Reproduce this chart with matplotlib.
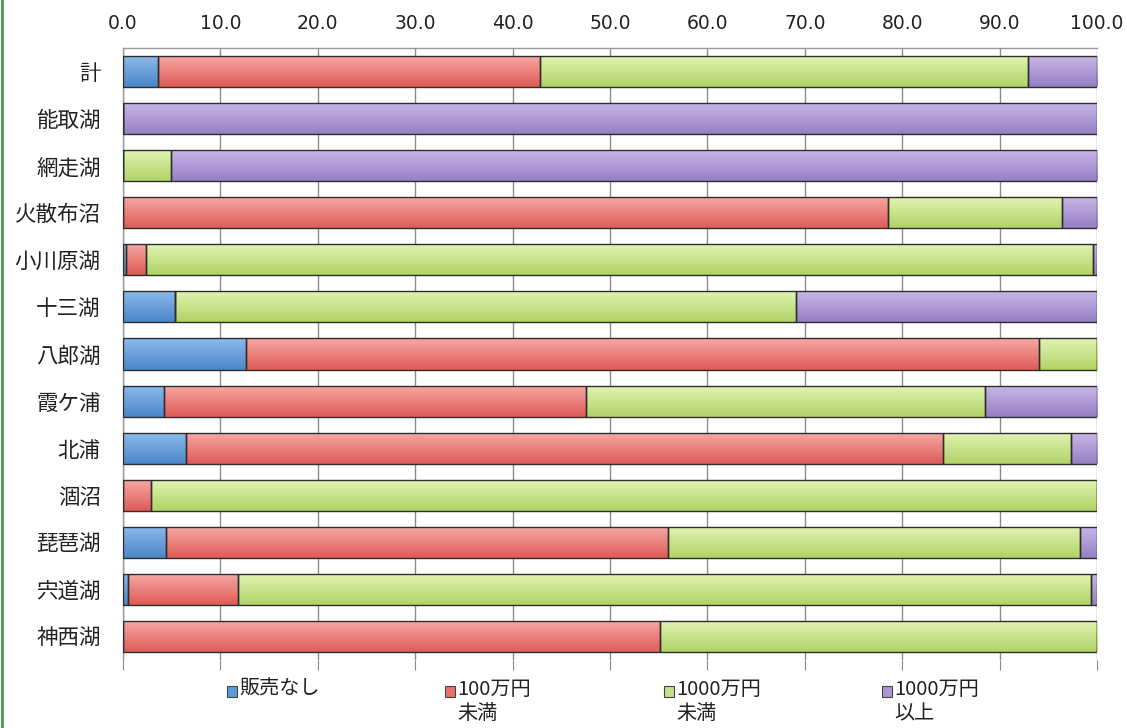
import numpy as np
import matplotlib.pyplot as plt
from matplotlib.colors import LinearSegmentedColormap
from matplotlib.lines import Line2D

plt.rcParams['font.family'] = ['Noto Sans CJK JP', 'DejaVu Sans']

lakes = ['計', '能取湖', '網走湖', '火散布沼', '小川原湖', '十三湖', '八郎湖',
         '霞ケ浦', '北浦', '涸沼', '琵琶湖', '宍道湖', '神西湖']
no_sales = [3.6, 0.0, 0.0, 0.0, 0.3, 5.3, 12.6, 4.2, 6.5, 0.0, 4.4, 0.5, 0.0]
under_100 = [39.2, 0.0, 0.0, 78.5, 2.1, 0.0, 81.4, 43.3, 77.7, 2.9, 51.6, 11.3, 55.1]
under_1000 = [50.1, 0.0, 4.9, 17.9, 97.2, 63.8, 6.0, 41.0, 13.1, 97.1, 42.3, 87.6, 44.9]
over_1000 = [7.1, 100.0, 95.1, 3.6, 0.4, 30.9, 0.0, 11.5, 2.7, 0.0, 1.7, 0.6, 0.0]

series = [no_sales, under_100, under_1000, over_1000]
names = ['販売なし', '100万円\n未満', '1000万円\n未満', '1000万円\n以上']
# (top, bottom) colours of each bar's vertical gradient
shades = [('#8dbbeb', '#4b86c9'), ('#f7a9a6', '#df5b57'),
          ('#e3f4b4', '#b0d366'), ('#c9b8e8', '#9580c4')]
solid = ['#5b9bd5', '#e8716d', '#c4e08a', '#ab96d5']

fig = plt.figure(figsize=(11.27, 7.28), dpi=100)
ax = fig.add_axes([123 / 1127, 1 - 660 / 728, 974 / 1127, 612 / 728])

y = np.arange(len(lakes))
left = np.zeros(len(lakes))
for vals, (top, bot) in zip(series, shades):
    cmap = LinearSegmentedColormap.from_list('g', [top, bot])
    bars = ax.barh(y, vals, left=left, height=0.66, color='none',
                   edgecolor='#2e2e2e', linewidth=1.0, zorder=3)
    for b in bars:
        w = b.get_width()
        if w <= 0:
            continue
        x0, y0, h = b.get_x(), b.get_y(), b.get_height()
        grad = np.linspace(0, 1, 64).reshape(-1, 1)
        im = ax.imshow(grad, cmap=cmap, aspect='auto', origin='upper',
                       extent=(x0, x0 + w, y0 + h, y0), zorder=2)
        im.set_clip_path(b)
    left += np.array(vals)

ax.set_xlim(0, 100)
ax.set_ylim(len(lakes) - 0.5, -0.5)
ax.set_xticks(np.arange(0, 101, 10))
ax.set_xticklabels([f'{v:.1f}' for v in range(0, 101, 10)], fontsize=13.5,
                   family=['Verdana', 'DejaVu Sans'], color='#222222')
ax.xaxis.tick_top()
ax.tick_params(axis='x', which='both', top=False, bottom=True, length=7,
               color='#888888', pad=4)
ax.set_yticks(y)
ax.set_yticklabels(lakes, fontsize=15.5, color='#222222')
ax.tick_params(axis='y', length=0, pad=16)
ax.grid(axis='x', color='#8c8c8c', linewidth=1.0, zorder=0)
ax.set_axisbelow(True)
for side, sp in ax.spines.items():
    sp.set_color('#9a9a9a')
    sp.set_linewidth(1.0)
ax.spines['bottom'].set_visible(False)
ax.spines['right'].set_visible(False)

# legend drawn as separate labelled markers
leg_x = [232, 450, 669, 887]
for lx, name, c in zip(leg_x, names, solid):
    fig.patches.append(plt.Rectangle(((lx - 5) / 1127, 1 - 697 / 728), 10 / 1127, 11 / 728,
                                     transform=fig.transFigure, facecolor=c,
                                     edgecolor='#444444', linewidth=0.8))
    fig.text((lx + 7) / 1127, 1 - 679 / 728, name, fontsize=14.5, va='top',
             ha='left', color='#222222', linespacing=1.2)

fig.lines.append(Line2D([1.5 / 1127, 1.5 / 1127], [0, 1], transform=fig.transFigure,
                        color='#4a9a4a', linewidth=2))

fig.savefig('out.png', dpi=100)
